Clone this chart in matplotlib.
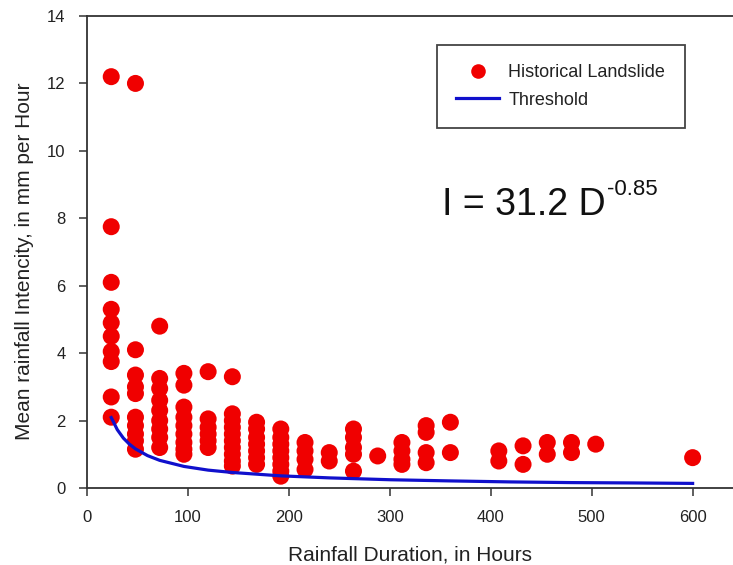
import matplotlib
matplotlib.use('Agg')
import matplotlib.pyplot as plt
from matplotlib.lines import Line2D

plt.rcParams['font.family'] = ['Liberation Sans', 'DejaVu Sans']

# Rainfall duration of each column of landslide events (hours)
durations = [24, 48, 72, 96, 120, 144, 168, 192, 216, 240, 264, 288,
             312, 336, 360, 408, 432, 456, 480, 504, 600]

# Mean rainfall intensity of the events in each column (mm per hour)
intensities = [
    [12.2, 7.75, 6.1, 5.3, 4.9, 4.5, 4.05, 3.75, 2.7, 2.1],
    [12.0, 4.1, 3.35, 3.0, 2.8, 2.1, 1.85, 1.6, 1.4, 1.15],
    [4.8, 3.25, 2.95, 2.6, 2.3, 2.0, 1.75, 1.5, 1.2],
    [3.4, 3.05, 2.4, 2.1, 1.85, 1.6, 1.35, 1.15, 1.0],
    [3.45, 2.05, 1.8, 1.6, 1.4, 1.2],
    [3.3, 2.2, 2.0, 1.8, 1.6, 1.4, 1.2, 1.0, 0.8, 0.65],
    [1.95, 1.75, 1.5, 1.3, 1.1, 0.9, 0.7],
    [1.75, 1.5, 1.3, 1.1, 0.9, 0.7, 0.5, 0.35],
    [1.35, 1.1, 0.85, 0.55],
    [1.05, 0.8],
    [1.75, 1.5, 1.2, 1.0, 0.5],
    [0.95],
    [1.35, 1.1, 0.85, 0.7],
    [1.85, 1.65, 1.05, 0.75],
    [1.95, 1.05],
    [1.1, 0.8],
    [1.25, 0.7],
    [1.35, 1.0],
    [1.35, 1.05],
    [1.3],
    [0.9],
]

# Threshold curve (hours, mm per hour)
threshold_d = [24, 30, 36, 42, 48, 60, 72, 96, 120, 144, 192, 240,
               300, 360, 420, 480, 540, 600]
threshold_i = [2.09, 1.73, 1.48, 1.30, 1.16, 0.96, 0.82, 0.64, 0.53,
               0.46, 0.36, 0.30, 0.245, 0.21, 0.18, 0.16, 0.15, 0.136]

equation_base = 'I = 31.2 D'
equation_exp = '-0.85'


def draw():
    fig = plt.figure(figsize=(7.33, 5.65), dpi=100)
    ax = fig.add_axes([0.1187, 0.1363, 0.8813, 0.8354])

    # flatten columns into points
    xs, ys = [], []
    for d, col in zip(durations, intensities):
        xs += [d] * len(col)
        ys += col

    ax.scatter(xs, ys, s=150, color='#f00000', edgecolors='none', zorder=2)
    ax.plot(threshold_d, threshold_i, color='#1010cc', lw=2.3, zorder=3)

    ax.set_xlim(0, 640)
    ax.set_ylim(0, 14)
    ax.set_xticks(range(0, 601, 100))
    ax.set_yticks(range(0, 15, 2))

    for side in ['left', 'bottom', 'top']:
        ax.spines[side].set_color('#333333')
        ax.spines[side].set_linewidth(1.3)
    ax.spines['right'].set_visible(False)
    ax.tick_params(direction='out', length=5.5, width=1.1, color='#333333',
                   labelsize=12, labelcolor='#222222', pad=10)

    ax.set_xlabel('Rainfall Duration, in Hours', fontsize=15,
                  color='#222222', labelpad=15)
    ax.set_ylabel('Mean rainfall Intencity, in mm per Hour', fontsize=15,
                  color='#222222', labelpad=9, y=0.48)

    # legend box with fixed width
    handles = [
        Line2D([], [], ls='none', marker='o', ms=10.5, color='#f00000',
               markeredgecolor='none'),
        Line2D([], [], color='#1010cc', lw=2.3),
    ]
    leg = ax.legend(handles, ['Historical Landslide', 'Threshold'],
                    loc='upper left', bbox_to_anchor=(0.542, 0.775, 0.384, 0.1636),
                    mode='expand', borderaxespad=0, fontsize=13,
                    fancybox=False, framealpha=1, edgecolor='#444444',
                    borderpad=1.05, labelspacing=0.6, handlelength=2.4,
                    handletextpad=0.5)
    leg.get_frame().set_linewidth(1.3)
    for t in leg.get_texts():
        t.set_color('#222222')

    # equation with a plain hyphen in the exponent
    base = ax.text(0.549, 0.578, equation_base, transform=ax.transAxes,
                   fontsize=27, color='#111111', va='baseline')
    ax.annotate(equation_exp, xy=(1.0, 1.0), xycoords=base,
                xytext=(1, 6), textcoords='offset points',
                fontsize=16, color='#111111', ha='left', va='top')

    fig.savefig('out.png', dpi=100)


if __name__ == '__main__':
    draw()
